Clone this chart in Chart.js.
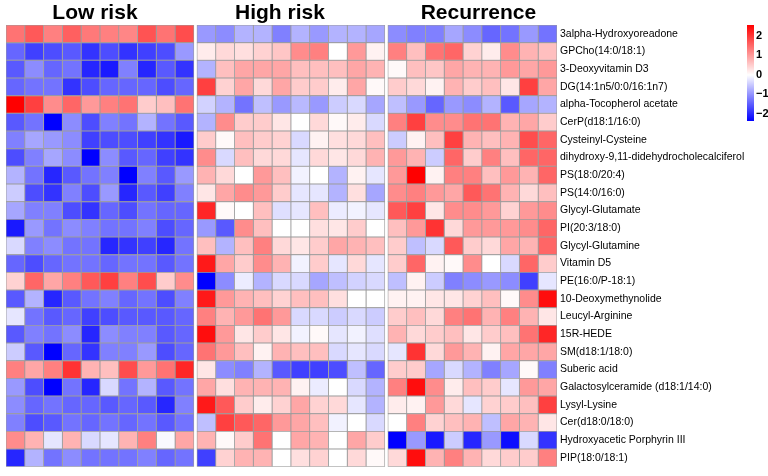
<!DOCTYPE html>
<html>
<head>
<meta charset="utf-8">
<script src="https://cdn.jsdelivr.net/npm/chart.js@4.4.0/dist/chart.umd.min.js"></script>
<style>
  html, body { margin: 0; padding: 0; background: #fff; }
  #wrap { position: relative; width: 768px; height: 476px; overflow: hidden; }
  #heat { position: absolute; left: 0; top: 0; }
  #bar { position: absolute; left: 747px; top: 0; }
</style>
</head>
<body>
<div id="wrap">
  <canvas id="heat" width="745" height="476"></canvas>
  <canvas id="bar" width="21" height="476"></canvas>
</div>
<script>
// row names (metabolites), top to bottom
const rowLabels = [
  '3alpha-Hydroxyoreadone', 'GPCho(14:0/18:1)', '3-Deoxyvitamin D3', 'DG(14:1n5/0:0/16:1n7)',
  'alpha-Tocopherol acetate', 'CerP(d18:1/16:0)', 'Cysteinyl-Cysteine',
  'dihydroxy-9,11-didehydrocholecalciferol', 'PS(18:0/20:4)', 'PS(14:0/16:0)',
  'Glycyl-Glutamate', 'PI(20:3/18:0)', 'Glycyl-Glutamine', 'Vitamin D5', 'PE(16:0/P-18:1)',
  '10-Deoxymethynolide', 'Leucyl-Arginine', '15R-HEDE', 'SM(d18:1/18:0)', 'Suberic acid',
  'Galactosylceramide (d18:1/14:0)', 'Lysyl-Lysine', 'Cer(d18:0/18:0)',
  'Hydroxyacetic Porphyrin III', 'PIP(18:0/18:1)'
];

const groupNames = ['Low risk', 'High risk', 'Recurrence'];

// z-scores, one row per metabolite, one value per sample
const lowRisk = [
  [1.1, 1.3, 1.0, 1.25, 1.05, 1.0, 0.95, 1.35, 1.1, 1.4],
  [-1.2, -1.5, -1.4, -1.3, -1.6, -1.4, -1.6, -1.5, -1.4, -0.8],
  [-1.3, -0.9, -1.2, -1.1, -1.7, -1.8, -1.0, -1.7, -1.3, -1.6],
  [-1.2, -1.1, -1.1, -1.6, -1.4, -1.2, -1.2, -1.2, -1.4, -1.2],
  [2.0, 1.5, 0.9, 1.2, 0.8, 1.0, 1.1, 0.4, 0.5, 1.1],
  [-1.3, -1.1, -2.0, -0.9, -1.4, -1.0, -1.1, -0.6, -1.1, -1.3],
  [-1.0, -0.7, -0.8, -0.9, -1.5, -1.4, -1.4, -1.5, -1.6, -1.8],
  [-1.4, -1.0, -0.7, -0.9, -2.0, -0.9, -1.3, -1.2, -1.5, -1.6],
  [-0.6, -1.1, -1.7, -1.3, -1.1, -1.0, -2.0, -1.0, -1.3, -0.8],
  [-0.4, -1.4, -1.6, -1.0, -1.4, -0.8, -1.7, -1.3, -1.5, -1.0],
  [-0.7, -1.0, -1.0, -1.4, -1.6, -1.2, -1.4, -1.1, -1.2, -1.2],
  [-1.8, -0.8, -1.1, -0.9, -1.0, -1.1, -1.1, -1.0, -1.4, -1.2],
  [-0.3, -1.0, -0.9, -1.1, -1.1, -1.7, -1.6, -1.5, -1.7, -1.1],
  [-1.2, -1.4, -1.2, -1.1, -1.1, -1.2, -1.1, -1.1, -1.3, -1.1],
  [0.35, 1.2, 0.7, 1.0, 1.3, 1.5, 1.0, 1.4, 0.4, 0.9],
  [-1.3, -0.6, -1.7, -1.3, -1.1, -1.0, -1.2, -1.1, -1.4, -1.0],
  [-0.2, -1.1, -1.3, -1.2, -1.5, -1.4, -1.3, -1.3, -1.3, -1.2],
  [-1.3, -1.0, -1.1, -0.9, -1.7, -0.9, -1.0, -1.0, -1.3, -1.2],
  [-0.4, -1.3, -2.0, -1.2, -1.6, -1.0, -1.0, -0.8, -1.4, -1.2],
  [1.0, 0.7, 1.0, 1.6, 0.6, 0.5, 1.4, 0.8, 1.1, 1.7],
  [-0.8, -1.4, -2.0, -1.1, -1.7, -0.3, -1.1, -0.6, -1.3, -1.1],
  [-0.9, -1.2, -1.1, -1.2, -1.2, -1.3, -1.2, -1.3, -1.7, -1.0],
  [-1.0, -1.4, -1.3, -1.1, -1.2, -1.1, -1.2, -1.1, -1.3, -1.1],
  [0.9, 0.6, -0.2, 0.6, -0.3, -0.2, 0.6, 1.0, -0.05, 0.7],
  [-1.7, -0.6, -1.1, -0.9, -1.1, -1.1, -1.1, -1.0, -1.2, -1.1]
];

const highRisk = [
  [-0.8, -0.9, -0.6, -0.6, -1.0, -0.6, -0.8, -0.6, -0.6, -0.7],
  [0.15, 0.3, 0.25, 0.35, 0.45, 0.9, 1.0, 0.0, 0.8, 0.1],
  [-0.6, 0.5, 0.7, 0.7, 0.7, 0.5, 0.5, 0.5, 0.7, 0.6],
  [1.5, 0.35, 0.7, 0.3, 0.7, 0.4, 0.4, 0.15, 0.7, 0.05],
  [-0.35, -0.6, -1.1, -0.5, -0.8, -0.55, -0.8, -0.4, -0.3, -0.7],
  [-0.6, 0.9, 0.4, 0.4, 0.2, 0.0, 0.3, 0.05, 0.15, -0.3],
  [0.4, 0.05, 0.5, 0.4, 0.35, -0.3, 0.1, 0.25, 0.3, 0.5],
  [0.9, -0.3, 0.5, 0.3, 0.3, -0.2, 0.3, 0.2, 0.3, 0.6],
  [0.6, 0.3, 0.0, 0.8, 0.5, -0.1, 0.0, -0.6, 0.1, -0.2],
  [0.2, 0.7, 0.9, 0.8, 0.4, -0.2, -0.2, -0.6, 0.25, -0.7],
  [1.7, 0.05, 0.0, 0.5, -0.25, -0.2, 0.5, -0.15, -0.1, -0.2],
  [-0.8, -1.3, 0.9, 0.5, 0.0, 0.0, 0.25, 0.2, 0.4, 0.0],
  [0.5, -0.6, 0.5, 1.0, 0.3, 0.2, 0.4, 0.7, 0.6, 0.5],
  [1.8, 0.7, 0.4, 0.9, 0.6, -0.1, 0.4, -0.2, 0.3, -0.2],
  [-2.0, -0.9, -0.15, -0.6, -0.3, -0.3, -0.7, -0.5, -0.35, -0.3],
  [1.8, 0.8, 0.6, 0.5, 0.35, 0.5, 0.5, 0.25, 0.0, 0.0],
  [1.0, 0.6, 0.8, 1.1, 0.8, -0.3, -0.3, -0.4, -0.3, -0.4],
  [1.9, 0.8, 0.2, 0.4, 0.2, -0.1, 0.05, -0.2, -0.1, -0.25],
  [1.1, 0.8, 0.5, 0.1, 0.6, 0.5, 0.5, -0.3, -0.2, -0.3],
  [0.2, -0.9, -1.0, -0.6, -1.3, -1.5, -1.5, -1.4, -0.5, -1.2],
  [0.7, 0.25, 0.6, 0.6, 0.6, 0.1, -0.15, 0.0, -0.3, -0.6],
  [1.8, 1.3, 0.4, 0.15, 0.35, 0.7, 0.35, 0.3, -0.2, -0.6],
  [-0.5, 1.5, 1.3, 1.2, 0.8, 0.7, 0.5, -0.1, 0.0, -0.3],
  [0.6, 0.05, 0.4, 1.1, 0.0, 0.7, 0.6, 0.0, 0.7, 0.4],
  [-1.5, 0.35, 0.6, 0.6, 0.0, 0.25, 0.35, 0.0, 0.3, 0.05]
];

const recurrence = [
  [-0.9, -1.0, -1.0, -0.7, -0.9, -1.2, -1.1, -0.8, -1.1],
  [1.0, 0.5, 1.1, 1.2, 0.35, 0.15, 0.9, 0.6, 0.5],
  [0.05, 0.5, 0.45, 0.7, 0.6, 0.6, 0.8, 0.7, 0.8],
  [0.4, 0.3, 0.1, 0.6, 0.4, 0.5, 0.2, 1.5, 0.7],
  [-0.5, -0.8, -1.2, -0.8, -0.9, -0.6, -1.3, -0.7, -0.6],
  [1.0, 1.5, 0.9, 0.9, 1.1, 1.1, 0.6, 0.7, 0.4],
  [-0.4, 0.1, 0.5, 1.5, 0.6, 0.5, 0.6, 1.4, 1.2],
  [0.8, 0.6, -0.4, 1.2, 0.4, 1.0, 0.5, 1.2, 1.2],
  [0.8, 2.0, 0.1, 1.0, 1.0, 0.5, 0.8, 0.6, 1.2],
  [0.9, 1.0, 0.8, 0.7, 1.3, 1.1, 0.6, 0.3, 0.5],
  [1.3, 1.5, 0.2, 0.9, 0.9, 0.8, 0.35, 0.8, 0.9],
  [0.5, 0.8, 1.6, 0.3, 0.8, 0.8, 0.8, 0.9, 1.2],
  [0.4, -0.5, -0.3, 1.3, 0.4, 0.3, 0.7, 0.6, 1.2],
  [0.4, 1.2, 0.1, 0.05, 0.9, 0.0, -0.3, 1.2, 0.4],
  [-0.5, 0.1, -0.4, -1.0, -0.9, -0.8, -0.9, -1.5, -0.2],
  [0.1, 0.1, 0.2, 0.2, 0.35, 0.5, 0.05, 0.9, 1.9],
  [0.4, 0.5, 0.3, 1.0, 1.1, 0.6, 1.0, 0.6, 0.2],
  [0.6, 0.3, 0.4, 0.5, 0.2, 0.4, 0.5, 1.1, 1.7],
  [-0.2, 1.6, 0.3, 0.8, 0.6, 0.1, 0.7, 0.7, 0.7],
  [0.4, 0.4, -0.7, -0.3, -0.6, -1.0, -0.7, 0.05, -1.0],
  [1.0, 1.9, 0.9, 0.15, 0.5, 0.4, -0.2, 0.8, 0.7],
  [0.15, 0.1, 0.8, 0.3, -0.2, 0.35, 0.4, 0.5, 1.5],
  [0.0, 1.0, 0.35, 0.5, 0.6, -0.5, 0.7, 0.6, 0.2],
  [-2.0, -0.8, -1.8, -0.4, -1.7, -0.8, -1.9, -0.3, -1.6],
  [0.3, 1.9, 0.6, 1.0, 0.6, 0.3, 0.4, 0.4, 1.0]
];

const colorTicks = [-2, -1, 0, 1, 2];

const groups = [lowRisk, highRisk, recurrence];
const GAP = 0.16;            // white gap between groups, in column units
const TITLE_SHIFT = [-5, -11, 6];

const heatColor = (v) => {
    const t = Math.min(1, Math.abs(v) / 2);
    const c = Math.round(255 * (1 - t));
    return v >= 0 ? `rgb(255,${c},${c})` : `rgb(${c},${c},255)`;
};

/**
 * one floating horizontal bar dataset per sample column
 */
const buildDatasets = () => {
    const sets = [];
    let start = 0;
    groups.forEach((mat) => {
        const nCol = mat[0].length;
        for (let c = 0; c < nCol; c++) {
            const x0 = start + c;
            sets.push({
                data: mat.map(() => [x0, x0 + 1]),
                backgroundColor: mat.map((row) => heatColor(row[c])),
                borderColor: '#9c9c9c',
                borderWidth: 0.8,
                borderSkipped: false,
                grouped: false,
                categoryPercentage: 1,
                barPercentage: 1,
            });
        }
        start += nCol + GAP;
    });
    return sets;
};

const totalCols = groups.reduce((s, m) => s + m[0].length, 0) + GAP * (groups.length - 1);

const titlesPlugin = {
    id: 'groupTitles',
    afterDraw(chart) {
        const { ctx, scales: { x } } = chart;
        ctx.save();
        ctx.font = 'bold 21px "Liberation Sans", Arial, sans-serif';
        ctx.fillStyle = '#000';
        ctx.textAlign = 'center';
        ctx.textBaseline = 'alphabetic';
        let start = 0;
        groups.forEach((mat, g) => {
            const n = mat[0].length;
            const cx = (x.getPixelForValue(start) + x.getPixelForValue(start + n)) / 2;
            ctx.fillText(groupNames[g], cx + TITLE_SHIFT[g], 19);
            start += n + GAP;
        });
        ctx.restore();
    }
};

new Chart(document.getElementById('heat'), {
    type: 'bar',
    data: { labels: rowLabels, datasets: buildDatasets() },
    options: {
        indexAxis: 'y',
        responsive: false,
        animation: false,
        layout: { padding: { left: 6, top: 25, bottom: 7, right: 0 } },
        plugins: { legend: { display: false }, tooltip: { enabled: false } },
        scales: {
            x: { type: 'linear', min: 0, max: totalCols, display: false },
            y: {
                type: 'category',
                position: 'right',
                grid: { display: false, drawTicks: false },
                border: { display: false },
                ticks: {
                    autoSkip: false,
                    padding: 3,
                    color: '#000',
                    font: { family: '"Liberation Sans", Arial, sans-serif', size: 10.5 },
                },
                afterFit: (axis) => { axis.width = 188; },
            },
        },
    },
    plugins: [titlesPlugin],
});

// colour key
const LO = -2.36, HI = 2.56;
new Chart(document.getElementById('bar'), {
    type: 'bar',
    data: {
        labels: [''],
        datasets: [{
            data: [[LO, HI]],
            borderWidth: 0,
            categoryPercentage: 1,
            barPercentage: 1,
            backgroundColor: (ctx) => {
                const area = ctx.chart.chartArea;
                if (!area) return '#fff';
                const g = ctx.chart.ctx.createLinearGradient(0, area.bottom, 0, area.top);
                const z = -LO / (HI - LO);
                g.addColorStop(0, '#0000ff');
                g.addColorStop(z, '#ffffff');
                g.addColorStop(1, '#ff0000');
                return g;
            },
        }],
    },
    options: {
        responsive: false,
        animation: false,
        layout: { padding: { left: 0, top: 25, bottom: 355, right: 0 } },
        plugins: { legend: { display: false }, tooltip: { enabled: false } },
        scales: {
            x: { display: false },
            y: {
                type: 'linear',
                position: 'right',
                min: LO,
                max: HI,
                grid: { display: false, drawTicks: false },
                border: { display: false },
                afterBuildTicks: (axis) => { axis.ticks = colorTicks.map((v) => ({ value: v })); },
                ticks: {
                    padding: 2,
                    color: '#000',
                    font: { family: '"Liberation Sans", Arial, sans-serif', size: 11, weight: 'bold' },
                    callback: (v) => (v < 0 ? '\u2212' + Math.abs(v) : String(v)),
                },
                afterFit: (axis) => { axis.width = 14; },
            },
        },
    },
});
</script>
</body>
</html>
